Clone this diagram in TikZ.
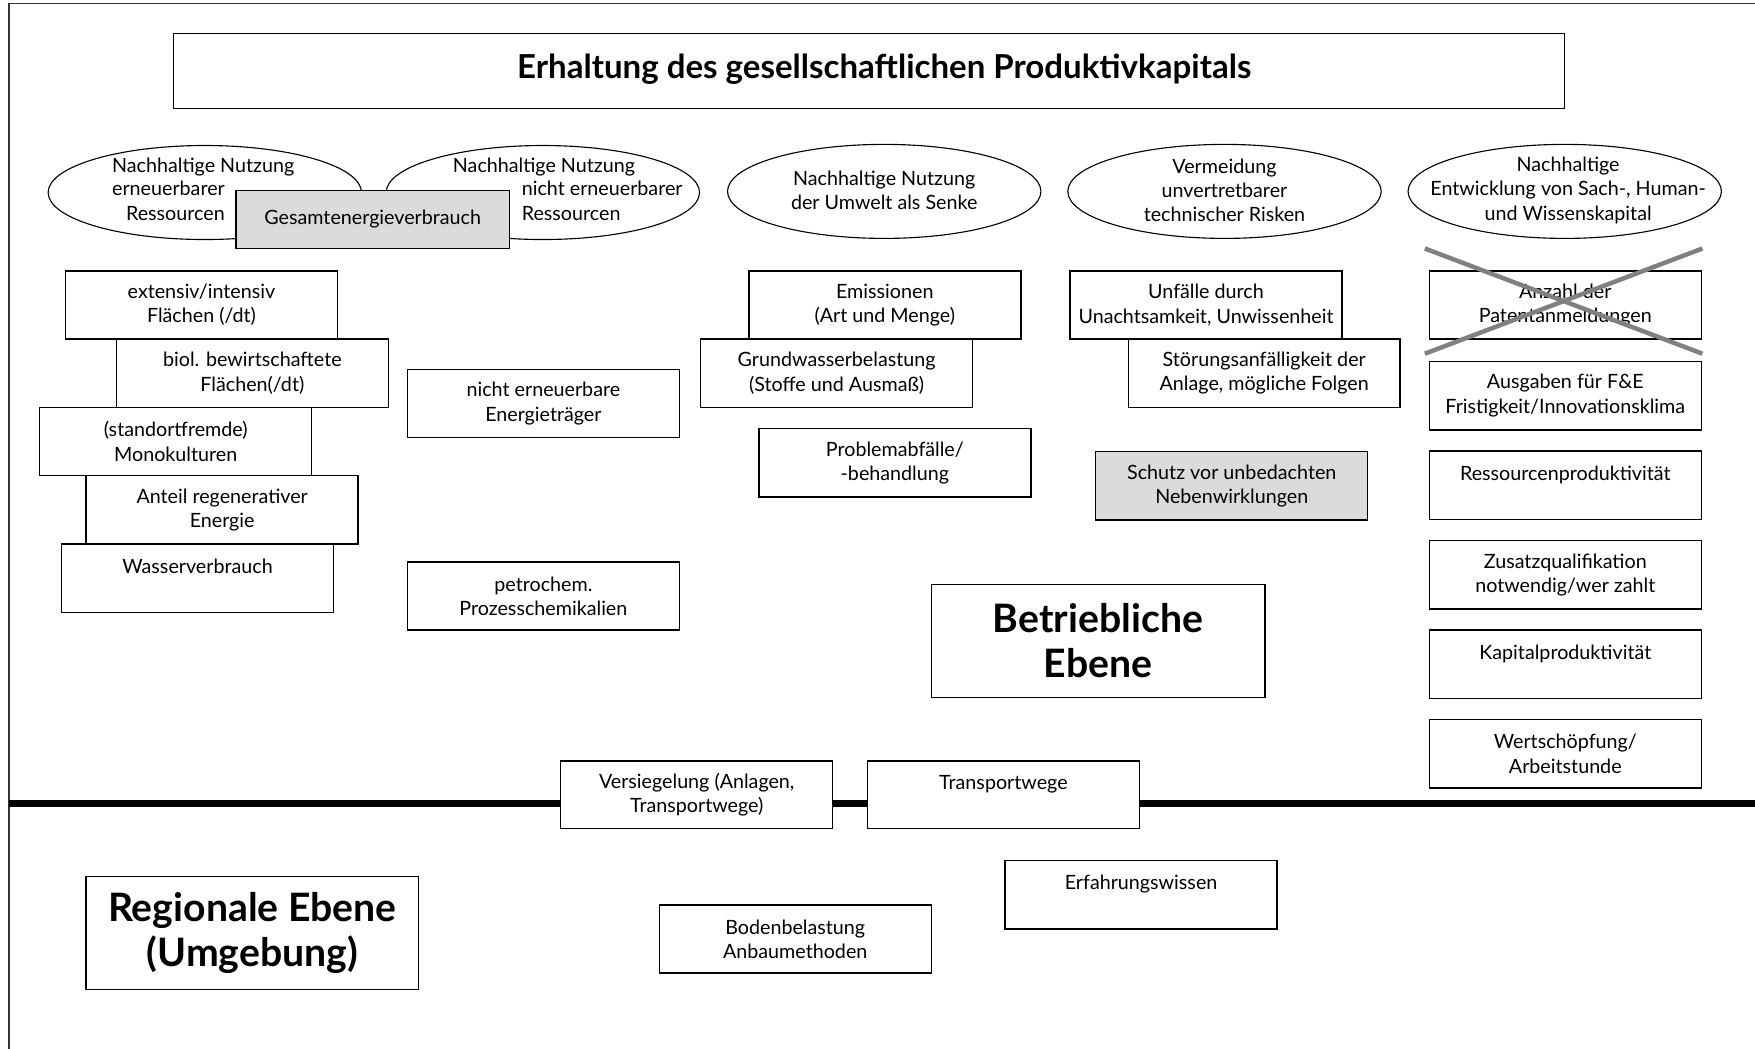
\documentclass[tikz,border=0pt]{standalone}
\usepackage{fontspec}
\setmainfont{Lato}
\usetikzlibrary{shapes.geometric}
\begin{document}
\begin{tikzpicture}[x=1pt,y=-1pt,
  every node/.style={font=\fontsize{17.6}{21.7}\selectfont, align=center, inner sep=0pt},
  bx/.style={draw=black, line width=1.3pt, fill=white, minimum width=243pt, minimum height=61pt},
  gbx/.style={bx, fill=black!14},
  bigbx/.style={draw=black, line width=1.3pt, fill=white, font=\fontsize{35}{40.5}\selectfont\bfseries},
  ell/.style={ellipse, draw=black, line width=1pt, fill=white, minimum width=280pt, minimum height=84pt},
  ln/.style={text height=12pt, text depth=4pt},
  frame/.style={draw=black!80, line width=1.5pt},
  level/.style={draw=black, line width=6pt},
  cross/.style={draw=black!50, line width=4pt}
]
\useasboundingbox (0,0) rectangle (1568,937);
% frame
\coordinate (ftl) at (8,3);
\coordinate (ftr) at (1568,3);
\coordinate (fbl) at (8,937);
\draw[frame] (ftr) -- (ftl) -- (fbl);

% title
\node[draw=black, line width=1.3pt, minimum width=1243pt, minimum height=67pt] (title) at (776.5,63.5) {};
\node[font=\fontsize{29.5}{34}\selectfont\bfseries] (titletext) at (790,62) {Erhaltung des gesellschaftlichen Produktivkapitals};

% ellipses
\node[ell] (e1) at (183,172) {};
\node[ell] (e2) at (485,172) {};
\node[gbx, minimum width=244pt, minimum height=52pt] (gesamt) at (333,196) {Gesamtenergieverbrauch};
\node[ln, anchor=west] (e1a) at (100,150) {Nachhaltige Nutzung};
\node[ln, anchor=west] (e1b) at (100,171) {erneuerbarer};
\node[ln, anchor=east] (e1c) at (201,193) {Ressourcen};
\node[ln] (e2a) at (486,150) {Nachhaltige Nutzung};
\node[ln, anchor=west] (e2b) at (466,171) {nicht erneuerbarer};
\node[ln, anchor=west] (e2c) at (466,193) {Ressourcen};
\node[ell] (e3) at (790,171) {};
\node (e3t) at (790,170) {Nachhaltige Nutzung\\der Umwelt als Senke};
\node[ell] (e4) at (1094,171) {};
\node (e4t) at (1094,170) {Vermeidung\\unvertretbarer\\technischer Risken};
\node[ell] (e5) at (1398,171) {};
\node (e5t) at (1401,170) {Nachhaltige\\Entwicklung von Sach-, Human-\\und Wissenskapital};

% left column
\node[bx] (b1) at (180,272.5) {extensiv/intensiv\\Flächen (/dt)};
\node[bx] (b2) at (225.5,333.5) {biol. bewirtschaftete\\Flächen(/dt)};
\node[bx] (b3) at (157,394.5) {(standortfremde)\\Monokulturen};
\node[bx] (b4) at (198.5,455.5) {Anteil regenerativer\\Energie};
\node[bx] (b5) at (176.5,516.5) {Wasserverbrauch\\\mbox{}};

\node[bx] (b6) at (485.5,360.5) {nicht erneuerbare\\Energieträger};
\node[bx] (b7) at (485.5,532.5) {petrochem.\\Prozesschemikalien};

% middle
\node[bx] (b8) at (790.5,272.5) {Emissionen\\(Art und Menge)};
\node[bx] (b9) at (747.5,333.5) {Grundwasserbelastung\\(Stoffe und Ausmaß)};
\node[bx] (b10) at (799.5,413.5) {Problemabfälle/\\-behandlung};

\node[bx] (b11) at (1077.5,272.5) {Unfälle durch\\Unachtsamkeit, Unwissenheit};
\node[bx] (b12) at (1129.5,333.5) {Störungsanfälligkeit der\\Anlage, mögliche Folgen};
\node[gbx] (b13) at (1100.5,434) {Schutz vor unbedachten\\Nebenwirklungen};

% right column
\node[bx] (b14) at (1398.5,272.5) {Anzahl der\\Patentanmeldungen};
\coordinate (x1) at (1273,222);
\coordinate (x2) at (1521,316);
\coordinate (x3) at (1521,222);
\coordinate (x4) at (1273,316);
\draw[cross] (x1) -- (x2);
\draw[cross] (x3) -- (x4);
\node[bx] (b15) at (1398.5,353.5) {Ausgaben für F\&E\\Fristigkeit/Innovationsklima};
\node[bx] (b16) at (1398.5,433.5) {Ressourcenproduktivität\\\mbox{}};
\node[bx] (b17) at (1398.5,513.5) {Zusatzqualifikation\\notwendig/wer zahlt};
\node[bx] (b18) at (1398.5,593.5) {Kapitalproduktivität\\\mbox{}};
\node[bx] (b19) at (1398.5,673.5) {Wertschöpfung/\\Arbeitstunde};

% Betriebliche Ebene
\node[bigbx, minimum width=298pt, minimum height=101pt] (betr) at (981,572.5) {Betriebliche\\Ebene};

% level line
\coordinate (l1) at (8,718);
\coordinate (l2) at (1568,718);
\draw[level] (l1) -- (l2);
\node[bx, minimum height=60pt] (b20) at (622.5,710) {Versiegelung (Anlagen,\\Transportwege)};
\node[bx, minimum height=60pt] (b21) at (896.5,710) {Transportwege\\\mbox{}};

% lower
\node[bx] (b22) at (1019.5,799.5) {Erfahrungswissen\\\mbox{}};
\node[bx] (b23) at (710.5,839) {Bodenbelastung\\Anbaumethoden};
\node[bigbx, minimum width=297pt, minimum height=101pt] (reg) at (225.5,833.5) {Regionale Ebene\\(Umgebung)};
\end{tikzpicture}
\end{document}
